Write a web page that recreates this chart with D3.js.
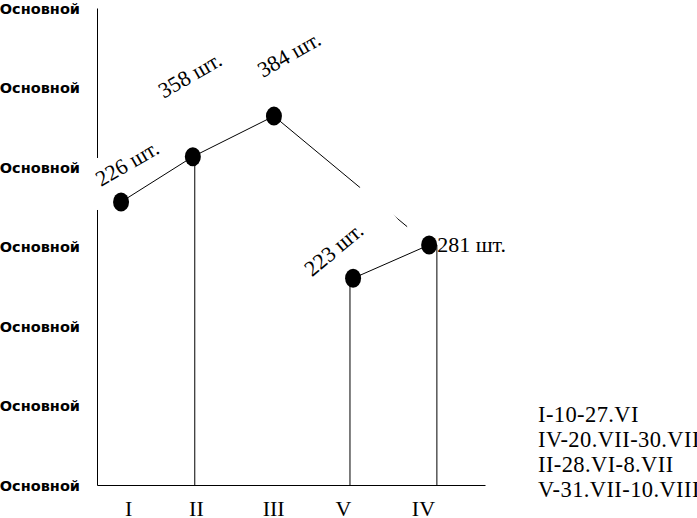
<!DOCTYPE html>
<meta charset="utf-8">
<style>
body { margin: 0; background: white; }
svg { display: block; }
.axis path { stroke: black; stroke-width: 1px; }
.axis--y text { font-family: "DejaVu Sans", sans-serif; font-weight: bold; font-size: 14.5px; fill: black; }
.axis--x text { font-family: "Liberation Serif", serif; font-size: 22px; fill: black; }
.link { fill: none; stroke: black; stroke-width: 1px; }
.drop { stroke: black; stroke-width: 1px; }
.dot { fill: black; }
.tag text { font-family: "Liberation Serif", serif; font-size: 22px; fill: black; }
.tag rect { fill: white; }
.legend text { font-family: "Liberation Serif", serif; font-size: 22.5px; letter-spacing: 0.4px; fill: black; }
</style>
<svg width="697" height="518"></svg>
<script src="https://d3js.org/d3.v7.min.js"></script>
<script>

// periods in chronological order (the line joins them in this order)
var periods = ["I", "II", "III", "IV", "V"];
var counts = [226, 358, 384, 281, 223];
// vertical level of each point, in axis units
var levels = [3.56, 4.13, 4.64, 3.02, 2.60];
// horizontal position of each point, in axis units
var positions = [0.62, 2.47, 4.56, 8.56, 6.60];

// x axis tick labels and where they stand
var tickLabels = ["I", "II", "III", "V", "IV"];
var tickPositions = [0.80, 2.55, 4.54, 6.34, 8.40];

// y axis ticks
var yTicks = [0, 1, 2, 3, 4, 5, 6];
var yTickLabel = "Основной";

// vertical drop lines
var dropPeriods = ["II", "V", "IV"];
var dropPositions = [2.52, 6.52, 8.76];

var legendLines = ["I-10-27.VI", "IV-20.VII-30.VII", "II-28.VI-8.VII", "V-31.VII-10.VIII"];

// label layout: offset from point, text rotation, white box [x, y, w, h, rotation]
var tagLayout = {
  "I":   {dx: -20, dy: -15, rot: -30, box: [-10, -29, 8, 52, 0]},
  "II":  {dx: -29, dy: -58, rot: -30, box: null},
  "III": {dx: -11, dy: -38, rot: -30, box: null},
  "IV":  {dx: 8,   dy: 7,   rot: 0,   box: [-30, -30, 100, 18, 0]},
  "V":   {dx: -41, dy: -1,  rot: -40, box: [-10, -38, 113, 58, -40]}
};

var svg = d3.select("svg");

var x = d3.scaleLinear().domain([0, 10]).range([97, 485]),
    y = d3.scaleLinear().domain([0, 6]).range([485, 8]);

var data = periods.map(function(p, i) {
  return {period: p, count: counts[i], level: levels[i], pos: positions[i]};
});
var byPeriod = {};
data.forEach(function(d) { byPeriod[d.period] = d; });

// axes
var xAxis = d3.axisBottom(x)
    .tickValues(tickPositions)
    .tickFormat(function(d, i) { return tickLabels[i]; })
    .tickSize(0);

var gx = svg.append("g")
    .attr("class", "axis axis--x")
    .attr("transform", "translate(0," + y(0) + ")")
    .call(xAxis);
gx.selectAll("text").attr("y", 31).attr("dy", 0);

var yAxis = d3.axisLeft(y)
    .tickValues(yTicks)
    .tickFormat(function() { return yTickLabel; })
    .tickSize(0)
    .tickPadding(17);

var gy = svg.append("g")
    .attr("class", "axis axis--y")
    .attr("transform", "translate(" + x(0) + ",0)")
    .call(yAxis);
gy.selectAll("text").attr("dy", "0.35em");

// drop lines
svg.selectAll(".drop")
    .data(dropPeriods)
  .enter().append("line")
    .attr("class", "drop")
    .attr("x1", function(p, i) { return x(dropPositions[i]); })
    .attr("x2", function(p, i) { return x(dropPositions[i]); })
    .attr("y1", function(p) { return y(byPeriod[p].level); })
    .attr("y2", y(0));

// line through the periods
var valueline = d3.line()
    .x(function(d) { return x(d.pos); })
    .y(function(d) { return y(d.level); });

svg.append("path")
    .datum(data)
    .attr("class", "link")
    .attr("d", valueline);

// labels
var tags = svg.selectAll(".tag")
    .data(data)
  .enter().append("g")
    .attr("class", "tag")
    .attr("transform", function(d) {
      var t = tagLayout[d.period];
      return "translate(" + (x(d.pos) + t.dx) + "," + (y(d.level) + t.dy) + ")";
    });

tags.filter(function(d) { return tagLayout[d.period].box; })
  .append("rect")
    .attr("x", function(d) { return tagLayout[d.period].box[0]; })
    .attr("y", function(d) { return tagLayout[d.period].box[1]; })
    .attr("width", function(d) { return tagLayout[d.period].box[2]; })
    .attr("height", function(d) { return tagLayout[d.period].box[3]; })
    .attr("transform", function(d) { return "rotate(" + tagLayout[d.period].box[4] + ")"; });

tags.append("text")
    .attr("transform", function(d) { return "rotate(" + tagLayout[d.period].rot + ")"; })
    .text(function(d) { return d.count + " шт."; });

// points
svg.selectAll(".dot")
    .data(data)
  .enter().append("ellipse")
    .attr("class", "dot")
    .attr("cx", function(d) { return x(d.pos); })
    .attr("cy", function(d) { return y(d.level); })
    .attr("rx", 8)
    .attr("ry", 9.5);

// legend
svg.append("g")
    .attr("class", "legend")
  .selectAll("text")
    .data(legendLines)
  .enter().append("text")
    .attr("x", 538)
    .attr("y", function(d, i) { return 422 + i * 25; })
    .text(function(d) { return d; });

</script>
